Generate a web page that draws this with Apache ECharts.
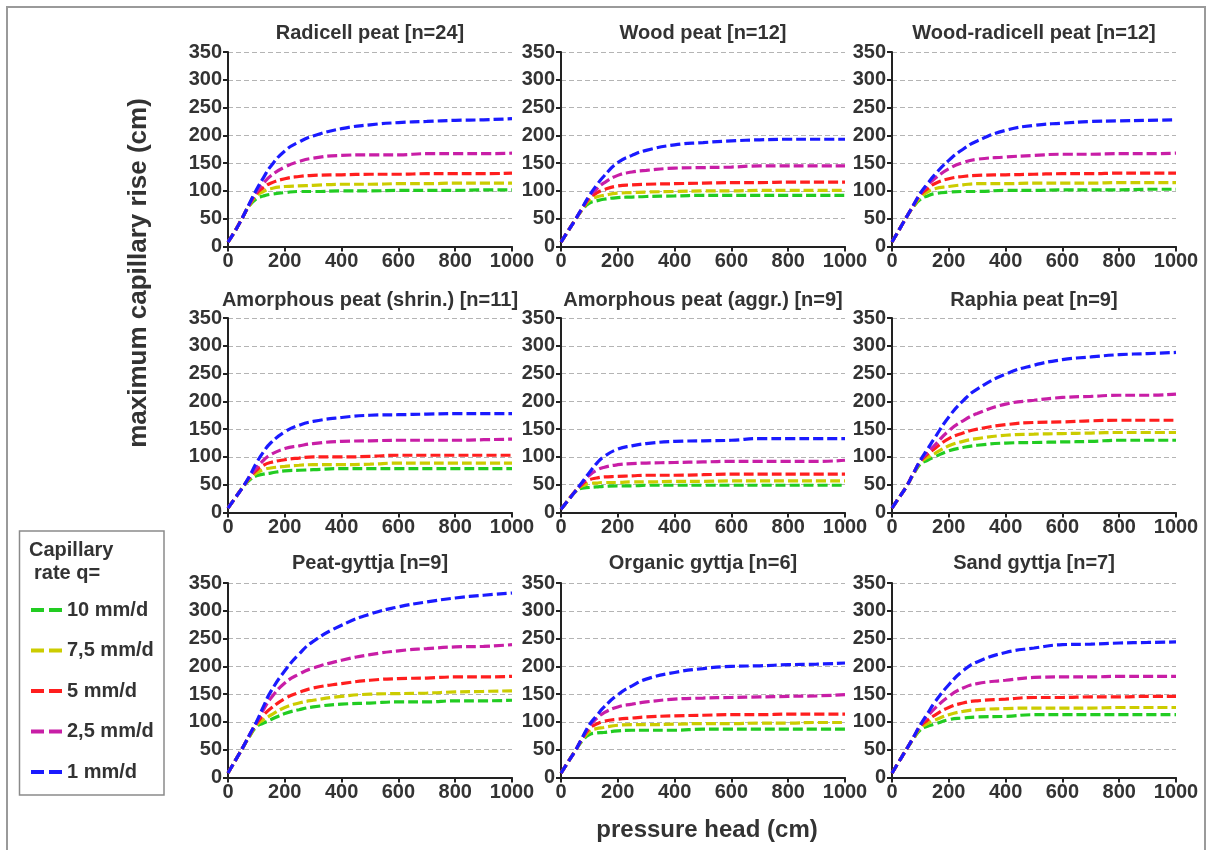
<!DOCTYPE html>
<html>
<head>
<meta charset="utf-8">
<script src="https://cdn.jsdelivr.net/npm/echarts@6/dist/echarts.min.js"></script>
<style>html,body{margin:0;padding:0;background:#fff}#c{width:1209px;height:850px}</style>
</head>
<body>
<div id="c"></div>
<script>
// pressure head (cm) sample points
const pressureHead = [0, 25, 50, 75, 100, 125, 150, 200, 250, 300, 400, 500, 600, 700, 800, 900, 1000];
// capillary rates (legend order, drawn bottom to top)
const rateNames = ['10 mm/d', '7,5 mm/d', '5 mm/d', '2,5 mm/d', '1 mm/d'];
const rateColors = ['#22cc22', '#cccc00', '#ff1e1e', '#c81ea6', '#1a1aff'];
const panelTitles = [
  'Radicell peat [n=24]', 'Wood peat [n=12]', 'Wood-radicell peat [n=12]',
  'Amorphous peat (shrin.) [n=11]', 'Amorphous peat (aggr.) [n=9]', 'Raphia peat [n=9]',
  'Peat-gyttja [n=9]', 'Organic gyttja [n=6]', 'Sand gyttja [n=7]'
];

// maximum capillary rise (cm), rows: 10, 7.5, 5, 2.5, 1 mm/d
const radicellPeat = [
  [8, 28, 51, 73, 86, 91, 94, 97, 99, 99, 100, 100, 101, 101, 101, 102, 102],
  [8, 28, 51, 74, 91, 99, 104, 108, 109, 110, 112, 112, 113, 113, 114, 114, 114],
  [8, 28, 51, 75, 95, 106, 114, 122, 126, 128, 129, 130, 130, 131, 131, 131, 132],
  [8, 28, 51, 76, 98, 114, 127, 143, 153, 159, 164, 165, 165, 167, 167, 167, 168],
  [8, 28, 51, 77, 102, 124, 144, 172, 188, 199, 212, 219, 223, 225, 227, 228, 230]
];
const woodPeat = [
  [8, 28, 48, 66, 78, 82, 85, 88, 89, 90, 91, 92, 92, 92, 92, 92, 92],
  [8, 28, 48, 67, 83, 89, 92, 96, 97, 98, 99, 100, 100, 101, 101, 101, 101],
  [8, 28, 48, 68, 87, 96, 102, 109, 111, 112, 113, 114, 115, 115, 116, 116, 116],
  [8, 28, 48, 69, 90, 103, 114, 128, 134, 137, 141, 142, 143, 145, 145, 145, 145],
  [8, 28, 48, 70, 92, 110, 126, 151, 164, 173, 183, 187, 190, 192, 193, 193, 193]
];
const woodRadicellPeat = [
  [8, 30, 52, 71, 85, 91, 95, 98, 99, 99, 101, 101, 102, 102, 102, 103, 103],
  [8, 30, 52, 72, 89, 98, 104, 108, 111, 113, 113, 114, 114, 114, 115, 115, 115],
  [8, 30, 52, 73, 93, 104, 113, 122, 126, 128, 129, 130, 131, 131, 132, 132, 132],
  [8, 30, 52, 74, 95, 110, 122, 140, 151, 157, 161, 164, 166, 166, 167, 167, 168],
  [8, 30, 52, 74, 96, 113, 129, 155, 175, 190, 209, 218, 222, 225, 226, 227, 228]
];
const amorphousShrin = [
  [8, 26, 44, 58, 66, 69, 71, 75, 76, 77, 79, 79, 79, 79, 79, 79, 79],
  [8, 26, 44, 60, 71, 77, 80, 83, 85, 86, 86, 87, 89, 89, 89, 89, 89],
  [8, 26, 44, 62, 76, 85, 90, 95, 98, 100, 100, 101, 103, 103, 103, 103, 103],
  [8, 26, 44, 63, 80, 94, 104, 115, 120, 124, 128, 129, 130, 130, 130, 131, 132],
  [8, 26, 44, 65, 89, 109, 125, 145, 157, 164, 171, 175, 176, 177, 178, 178, 178]
];
const amorphousAggr = [
  [6, 22, 37, 44, 45, 46, 47, 48, 48, 49, 49, 49, 49, 49, 49, 49, 49],
  [6, 22, 38, 48, 52, 53, 54, 54, 55, 55, 56, 56, 57, 57, 57, 57, 57],
  [6, 22, 38, 51, 59, 62, 64, 65, 66, 67, 67, 68, 69, 69, 69, 69, 69],
  [6, 22, 38, 53, 67, 76, 81, 86, 88, 89, 90, 91, 92, 92, 92, 92, 94],
  [6, 22, 38, 55, 72, 88, 100, 114, 120, 124, 128, 129, 130, 133, 133, 133, 133]
];
const raphiaPeat = [
  [8, 27, 46, 68, 87, 94, 100, 111, 117, 121, 125, 126, 127, 128, 130, 130, 130],
  [8, 27, 46, 69, 90, 99, 106, 120, 128, 133, 139, 141, 142, 143, 144, 144, 144],
  [8, 27, 46, 70, 92, 105, 115, 133, 143, 150, 158, 162, 163, 165, 166, 166, 166],
  [8, 27, 46, 70, 93, 108, 121, 147, 165, 178, 195, 202, 207, 209, 211, 211, 213],
  [8, 27, 46, 70, 94, 114, 134, 172, 201, 222, 249, 265, 275, 280, 284, 286, 288]
];
const peatGyttja = [
  [8, 30, 52, 73, 91, 98, 104, 115, 122, 127, 132, 134, 136, 136, 138, 138, 139],
  [8, 30, 52, 74, 94, 104, 112, 126, 134, 139, 146, 150, 151, 152, 154, 155, 156],
  [8, 30, 52, 75, 97, 112, 124, 142, 153, 161, 169, 175, 178, 179, 181, 181, 182],
  [8, 30, 52, 76, 99, 122, 142, 170, 186, 197, 211, 221, 228, 232, 235, 236, 239],
  [8, 30, 52, 76, 100, 128, 154, 192, 222, 245, 274, 294, 307, 316, 323, 328, 332]
];
const organicGyttja = [
  [8, 28, 48, 66, 77, 80, 81, 84, 85, 85, 85, 87, 87, 87, 87, 87, 87],
  [8, 28, 48, 68, 83, 88, 90, 94, 95, 95, 96, 97, 97, 98, 98, 99, 99],
  [8, 28, 48, 70, 88, 96, 101, 105, 107, 109, 111, 112, 113, 113, 114, 114, 114],
  [8, 28, 48, 71, 92, 106, 116, 127, 132, 136, 141, 143, 144, 145, 146, 147, 149],
  [8, 28, 48, 72, 95, 111, 126, 149, 165, 177, 189, 196, 200, 201, 203, 204, 206]
];
const sandGyttja = [
  [8, 29, 50, 69, 86, 92, 96, 104, 107, 109, 110, 113, 113, 113, 113, 113, 113],
  [8, 29, 50, 70, 89, 97, 103, 113, 119, 122, 124, 125, 125, 125, 126, 126, 126],
  [8, 29, 50, 71, 92, 103, 112, 126, 134, 138, 141, 144, 144, 145, 145, 146, 146],
  [8, 29, 50, 72, 94, 110, 124, 146, 161, 169, 175, 180, 181, 181, 182, 182, 182],
  [8, 29, 50, 72, 95, 115, 135, 167, 192, 208, 225, 233, 239, 240, 242, 243, 244]
];
const panels = [radicellPeat, woodPeat, woodRadicellPeat, amorphousShrin, amorphousAggr, raphiaPeat, peatGyttja, organicGyttja, sandGyttja];

const FONT = '"Liberation Sans", Arial, sans-serif';
const gridLefts = [228, 561, 892];
const gridTops = [52, 318, 583];
const gridW = 284, gridH = 194.5;
const titleTops = [23, 290, 553];

const grids = [], xAxes = [], yAxes = [], titles = [], series = [];
panels.forEach((panel, p) => {
  const col = p % 3, row = Math.floor(p / 3);
  grids.push({left: gridLefts[col], top: gridTops[row], width: gridW, height: gridH, containLabel: false});
  titles.push({
    text: panelTitles[p], left: gridLefts[col] + gridW / 2, top: titleTops[row], textAlign: 'center', padding: 0,
    textStyle: {fontFamily: FONT, fontSize: 20, fontWeight: 'bold', color: '#333'}
  });
  xAxes.push({
    type: 'value', gridIndex: p, min: 0, max: 1000, interval: 200,
    axisLine: {show: true, onZero: false, lineStyle: {color: '#222', width: 2}},
    axisTick: {show: true, length: 5, lineStyle: {color: '#222', width: 2}},
    axisLabel: {margin: 5, fontFamily: FONT, fontSize: 20, fontWeight: 'bold', color: '#333', formatter: v => String(v)},
    splitLine: {show: false}
  });
  yAxes.push({
    type: 'value', gridIndex: p, min: 0, max: 350, interval: 50,
    axisLine: {show: true, onZero: false, lineStyle: {color: '#222', width: 2}},
    axisTick: {show: true, length: 5, lineStyle: {color: '#222', width: 2}},
    axisLabel: {margin: 6, fontFamily: FONT, fontSize: 20, fontWeight: 'bold', color: '#333', formatter: v => String(v)},
    splitLine: {show: true, lineStyle: {color: '#b4b4b4', width: 1, type: [5, 3]}}
  });
  panel.forEach((vals, r) => {
    series.push({
      type: 'line', name: rateNames[r], xAxisIndex: p, yAxisIndex: p,
      data: pressureHead.map((x, i) => [x, vals[i]]),
      symbol: 'none', showSymbol: false, smooth: 0.5,
      lineStyle: {color: rateColors[r], width: 3.2, type: [10, 4]},
      itemStyle: {color: rateColors[r]},
      z: 2 + r
    });
  });
});

const chart = echarts.init(document.getElementById('c'), null, {renderer: 'canvas'});
chart.setOption({
  animation: false,
  backgroundColor: '#fff',
  title: titles,
  grid: grids,
  xAxis: xAxes,
  yAxis: yAxes,
  series: series,
  legend: {
    data: rateNames, orient: 'vertical', left: 26, top: 595,
    itemWidth: 31, itemHeight: 4, itemGap: 20.5,
    icon: 'path://M0,0h13v4h-13z M18,0h13v4h-13z',
    textStyle: {fontFamily: FONT, fontSize: 20, fontWeight: 'bold', color: '#333', lineHeight: 20}
  },
  graphic: [
    {type: 'rect', shape: {x: 7, y: 7, width: 1198, height: 860}, style: {fill: 'none', stroke: '#9a9a9a', lineWidth: 2}, silent: true, z: -1},
    {type: 'rect', shape: {x: 19.5, y: 531, width: 144.5, height: 264}, style: {fill: 'none', stroke: '#8a8a8a', lineWidth: 1.5}, silent: true},
    {type: 'text', x: 29, y: 550, style: {text: 'Capillary', font: 'bold 20px ' + FONT, fill: '#333', align: 'left', verticalAlign: 'middle'}},
    {type: 'text', x: 34, y: 573, style: {text: 'rate q=', font: 'bold 20px ' + FONT, fill: '#333', align: 'left', verticalAlign: 'middle'}},
    {type: 'text', x: 139, y: 273, rotation: Math.PI / 2, style: {text: 'maximum capillary rise (cm)', font: 'bold 26px ' + FONT, fill: '#333', align: 'center', verticalAlign: 'middle'}},
    {type: 'text', x: 707, y: 830, style: {text: 'pressure head (cm)', font: 'bold 24px ' + FONT, fill: '#333', align: 'center', verticalAlign: 'middle'}}
  ]
});
</script>
</body>
</html>
